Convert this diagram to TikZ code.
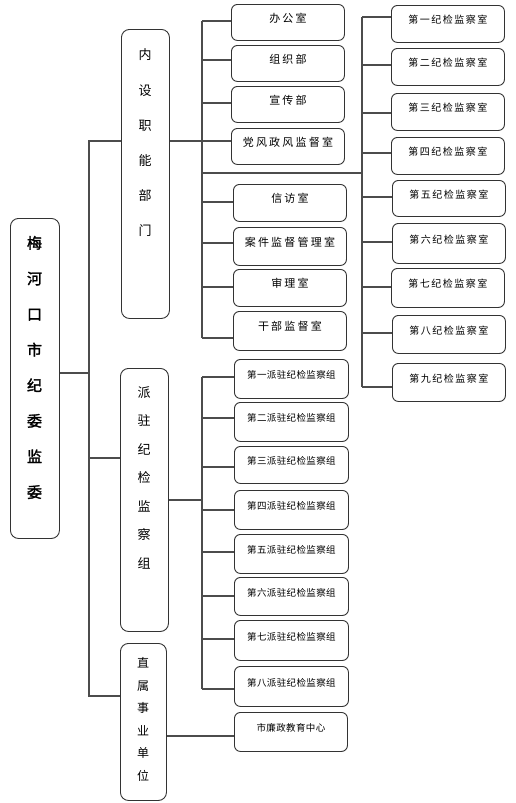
\documentclass[tikz,border=0pt]{standalone}
\usepackage{fontspec}
\newfontfamily\cjk{Noto Sans CJK SC}
\newfontfamily\cjkb{Noto Sans CJK SC}[FakeBold=2]
\newfontfamily\cjkA{Noto Sans CJK SC}[LetterSpace=20]
\newfontfamily\cjkB{Noto Sans CJK SC}[LetterSpace=15]
\newfontfamily\cjkC{Noto Sans CJK SC}[LetterSpace=4]
\begin{document}
\begin{tikzpicture}[x=1pt,y=-1pt,
  box/.style={draw=black!80, line width=0.9pt, rounded corners=6pt, fill=white,
    anchor=north west, inner sep=0pt, text height=0pt, text depth=0pt},
  vbox/.style={draw=black!80, line width=0.9pt, rounded corners=8pt, fill=white,
    anchor=north west, inner sep=0pt},
  vtext/.style={align=center, inner sep=0pt},
  colA/.style={box, minimum width=113pt, font=\cjkA\fontsize{11}{13}\selectfont},
  colB/.style={box, minimum width=113pt, font=\cjkB\fontsize{10}{12}\selectfont},
  colC/.style={box, minimum width=114pt, font=\cjkC\fontsize{9.5}{11}\selectfont},
  conn/.style={draw=black!70, line width=1.3pt}]
\fill[white] (0,0) rectangle (515,803);
\useasboundingbox (0,0) rectangle (515,803);

% vertical boxes
\node[vbox, minimum width=49pt, minimum height=320pt] (main) at (10,218) {};
\node[vtext, font=\cjkb\fontsize{15}{35.6}\selectfont] (maint) at (34.5,367.5) {梅\\河\\口\\市\\纪\\委\\监\\委};
\node[vbox, minimum width=48pt, minimum height=289pt] (nsbm) at (121,29) {};
\node[vtext, font=\cjk\fontsize{13}{35.2}\selectfont] (nsbmt) at (145,143) {内\\设\\职\\能\\部\\门};
\node[vbox, minimum width=48pt, minimum height=263pt] (pzjc) at (120,368) {};
\node[vtext, font=\cjk\fontsize{13}{28.5}\selectfont] (pzjct) at (144,477.5) {派\\驻\\纪\\检\\监\\察\\组};
\node[vbox, minimum width=46pt, minimum height=157pt] (zssy) at (120,643) {};
\node[vtext, font=\cjk\fontsize{12}{22.6}\selectfont] (zssyt) at (143,719.5) {直\\属\\事\\业\\单\\位};

% column 2
\node[colA, minimum height=36pt] (bgs) at (231,4) {办公室};
\node[colA, minimum height=36pt] (zzb) at (231,45) {组织部};
\node[colA, minimum height=36pt] (xcb) at (231,86) {宣传部};
\node[colA, minimum height=36pt] (dfzf) at (231,128) {党风政风监督室};
\node[colA, minimum height=37pt] (xfs) at (233,184) {信访室};
\node[colA, minimum height=38pt] (ajjd) at (233,227) {案件监督管理室};
\node[colA, minimum height=37pt] (sls) at (233,269) {审理室};
\node[colA, minimum height=39pt] (gbjd) at (233,311) {干部监督室};

% column 3
\node[colB, minimum height=37pt] (j1) at (391,5) {第一纪检监察室};
\node[colB, minimum height=37pt] (j2) at (391,48) {第二纪检监察室};
\node[colB, minimum height=37pt] (j3) at (391,93) {第三纪检监察室};
\node[colB, minimum height=37pt] (j4) at (391,137) {第四纪检监察室};
\node[colB, minimum height=36pt] (j5) at (392,180) {第五纪检监察室};
\node[colB, minimum height=40pt] (j6) at (392,223) {第六纪检监察室};
\node[colB, minimum height=39pt] (j7) at (391,268) {第七纪检监察室};
\node[colB, minimum height=38pt] (j8) at (392,315) {第八纪检监察室};
\node[colB, minimum height=38pt] (j9) at (392,363) {第九纪检监察室};

% pai zhu groups
\node[colC, minimum height=39pt] (p1) at (234,359) {第一派驻纪检监察组};
\node[colC, minimum height=39pt] (p2) at (234,402) {第二派驻纪检监察组};
\node[colC, minimum height=37pt] (p3) at (234,446) {第三派驻纪检监察组};
\node[colC, minimum height=39pt] (p4) at (234,490) {第四派驻纪检监察组};
\node[colC, minimum height=39pt] (p5) at (234,534) {第五派驻纪检监察组};
\node[colC, minimum height=38pt] (p6) at (234,577) {第六派驻纪检监察组};
\node[colC, minimum height=40pt] (p7) at (234,620) {第七派驻纪检监察组};
\node[colC, minimum height=40pt] (p8) at (234,666) {第八派驻纪检监察组};
\node[colC, minimum width=113pt, minimum height=39pt] (lz) at (234,712) {市廉政教育中心};

% connectors: main level
\coordinate (va) at (89,141);
\coordinate (vb) at (89,696);
\draw[conn] (nsbm.west |- va) -- (va) -- (vb) -- (zssy.west |- vb);
\draw[conn] (main.east |- 0,373) -- (va |- 0,373);
\draw[conn] (pzjc.west |- 0,458) -- (va |- 0,458);

% connectors: nei she
\coordinate (ca) at (202,21);
\coordinate (cb) at (202,338);
\coordinate (ja) at (362,17);
\coordinate (jb) at (362,387);
\draw[conn] (nsbm.east |- 0,141) -- (ca |- 0,141);
\draw[conn] (ca) -- (cb);
\foreach \n/\y in {bgs/21, zzb/60, xcb/103, dfzf/141, xfs/202, ajjd/243, sls/287, gbjd/338}
  \draw[conn] (ca |- 0,\y) -- (\n.west |- 0,\y);
\draw[conn] (ca |- 0,173) -- (ja |- 0,173);
\draw[conn] (ja) -- (jb);
\foreach \n/\y in {j1/17, j2/65, j3/113, j4/153, j5/197, j6/242, j7/287, j8/333, j9/387}
  \draw[conn] (ja |- 0,\y) -- (\n.west |- 0,\y);

% connectors: pai zhu
\coordinate (pa) at (202,377);
\coordinate (pb) at (202,689);
\draw[conn] (pzjc.east |- 0,500) -- (pa |- 0,500);
\draw[conn] (pa) -- (pb);
\foreach \n/\y in {p1/377, p2/418, p3/467, p4/510, p5/552, p6/596, p7/639, p8/689}
  \draw[conn] (pa |- 0,\y) -- (\n.west |- 0,\y);

% zhi shu
\draw[conn] (zssy.east |- 0,736) -- (lz.west |- 0,736);
\end{tikzpicture}
\end{document}
